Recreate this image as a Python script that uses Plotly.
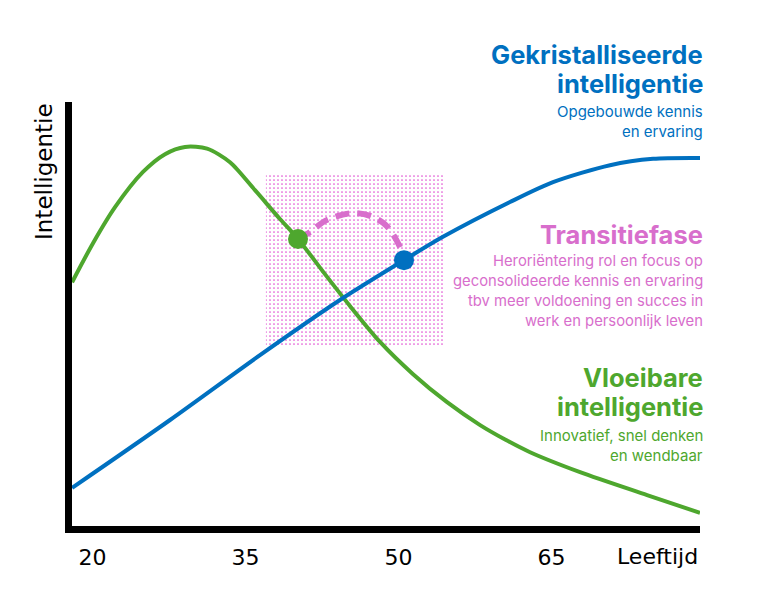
import plotly.graph_objects as go

# ---------------- data ----------------
ages_crystal = [18.0, 27.6, 36.42, 44.26, 50.54, 54.36, 60.93, 65.15, 70.74, 74.96, 79.56]
crystal = [9.0, 25.0, 40.3, 53.3, 62.7, 68.2, 76.4, 81.1, 85.1, 86.6, 86.8]

ages_fluid = [18.0, 20.05, 22.21, 24.95, 27.11, 29.07, 31.23, 33.48, 35.93, 38.38, 40.15,
              42.79, 45.24, 48.19, 51.43, 54.76, 58.0, 60.45, 62.9, 67.8, 74.37, 79.56]
fluid = [57.5, 66.7, 75.2, 83.5, 87.7, 89.4, 89.0, 85.8, 79.2, 72.4, 67.7,
         59.4, 51.9, 43.4, 35.8, 29.2, 23.8, 20.4, 17.4, 12.7, 7.3, 3.1]

transition_ages = [37.0, 54.4]
transition_levels = [42.5, 83.0]

arc_ages = [40.15, 41.3, 43.0, 45.9, 48.5, 50.15, 50.54]
arc_vals = [67.7, 69.3, 72.2, 73.8, 71.5, 65.8, 62.7]

point_fluid = (40.15, 67.7)
point_crystal = (50.54, 62.7)

tick_ages = [20, 35, 50, 65]
tick_labels = ["20", "35", "50", "65"]

BLUE = "#0070C0"
GREEN = "#4EA72E"
PINK = "#D86ECC"

fig = go.Figure()

# transition area (dotted pattern)
rx = [transition_ages[0], transition_ages[1], transition_ages[1], transition_ages[0], transition_ages[0]]
ry = [transition_levels[0], transition_levels[0], transition_levels[1], transition_levels[1], transition_levels[0]]
fig.add_trace(go.Scatter(
    x=rx, y=ry, mode="lines", fill="toself",
    line=dict(width=0, color="rgba(0,0,0,0)"),
    fillcolor="rgba(255,255,255,0)",
    fillpattern=dict(shape=".", size=4, solidity=0.14, fgcolor="#E04FD2",
                     bgcolor="rgba(255,255,255,0)", fgopacity=1),
    hoverinfo="skip", showlegend=False))

fig.add_trace(go.Scatter(x=ages_fluid, y=fluid, mode="lines",
                         line=dict(color=GREEN, width=4, shape="spline", smoothing=0.8),
                         showlegend=False))
fig.add_trace(go.Scatter(x=ages_crystal, y=crystal, mode="lines",
                         line=dict(color=BLUE, width=4, shape="spline", smoothing=0.8),
                         showlegend=False))
fig.add_trace(go.Scatter(x=arc_ages, y=arc_vals, mode="lines",
                         line=dict(color=PINK, width=6, dash="14px,8px", shape="spline"),
                         showlegend=False))
fig.add_trace(go.Scatter(x=[point_fluid[0]], y=[point_fluid[1]], mode="markers",
                         marker=dict(color=GREEN, size=20), showlegend=False))
fig.add_trace(go.Scatter(x=[point_crystal[0]], y=[point_crystal[1]], mode="markers",
                         marker=dict(color=BLUE, size=20), showlegend=False))

OFF = 8  # page body offset
W, H = 761, 594
pw, ph = 628, 424
L, T = 72 - OFF, 102 - OFF
R, B = W - L - pw, H - T - ph


def xp(px):
    return (px - OFF - L) / pw


def yp(py):
    return (T + ph - (py - OFF)) / ph


ann = []


def add(text, px, py, size, color, bold=False, family="Inter", xanchor="right", angle=0):
    ann.append(dict(text=("<b>%s</b>" % text) if bold else text, x=xp(px), y=yp(py),
                    xref="paper", yref="paper", xanchor=xanchor, yanchor="middle",
                    showarrow=False, textangle=angle,
                    font=dict(family=family, size=size, color=color)))


RX = 705
add("Gekristalliseerde", RX, 55, 25.5, BLUE, bold=True)
add("intelligentie", RX, 84, 25.5, BLUE, bold=True)
add("Opgebouwde kennis", RX, 111, 15, BLUE)
add("en ervaring", RX, 131, 15, BLUE)

add("Transitiefase", RX, 235, 25.5, PINK, bold=True)
add("Heroriëntering rol en focus op", RX, 261, 14.8, PINK)
add("geconsolideerde kennis en ervaring", RX, 281, 14.8, PINK)
add("tbv meer voldoening en succes in", RX, 301, 14.8, PINK)
add("werk en persoonlijk leven", RX, 321, 14.8, PINK)

add("Vloeibare", RX, 377, 25.5, GREEN, bold=True)
add("intelligentie", RX, 406, 25.5, GREEN, bold=True)
add("Innovatief, snel denken", RX, 435, 15, GREEN)
add("en wendbaar", RX, 455, 15, GREEN)

add("Intelligentie", 44, 172, 23, "black", family="DejaVu Sans", xanchor="center", angle=-90)
add("Leeftijd", 700, 556, 22, "black", family="DejaVu Sans")

fig.update_layout(
    width=W, height=H,
    margin=dict(l=L, r=R, t=T, b=B),
    paper_bgcolor="white", plot_bgcolor="white",
    showlegend=False,
    annotations=ann,
    xaxis=dict(range=[17.99, 79.56], showgrid=False, zeroline=False,
               showline=True, linewidth=7, linecolor="black",
               tickmode="array", tickvals=tick_ages, ticktext=tick_labels, ticks="",
               tickfont=dict(family="DejaVu Sans", size=22, color="black"),
               ticklabelstandoff=6),
    yaxis=dict(range=[0, 100], showgrid=False, zeroline=False,
               showline=True, linewidth=7, linecolor="black",
               showticklabels=False, ticks=""),
)

fig.write_html("out.html")
